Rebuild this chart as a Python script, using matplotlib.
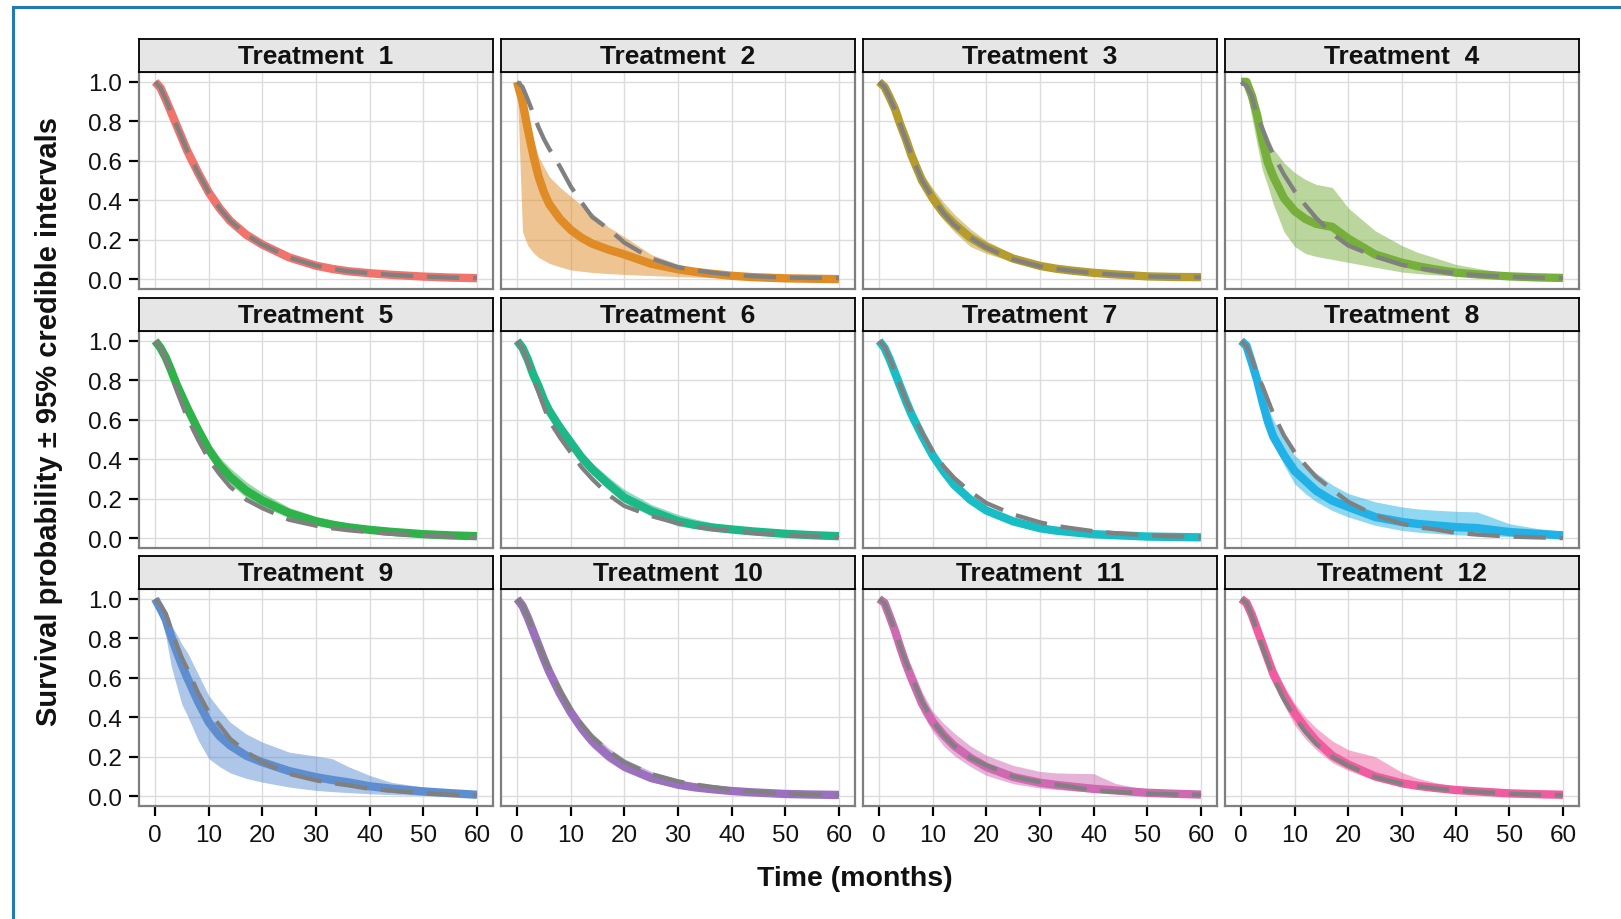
import matplotlib
matplotlib.use("Agg")
import matplotlib.pyplot as plt
from matplotlib.lines import Line2D

plt.rcParams['font.family'] = ['Liberation Sans', 'DejaVu Sans']

# time grid (months) shared by all curves
months = [0, 1, 2, 3, 4, 5, 6, 8, 10, 12, 14, 17, 20, 25, 30, 33, 36, 40, 44, 50, 55, 60]

treatments = ["Treatment  %d" % i for i in range(1, 13)]

colors = ['#F0736C', '#DF8B26', '#B59C2D', '#76AF3C', '#2DB34A', '#1DB888',
          '#19BDC6', '#22B1E6', '#5E8ED0', '#9B70BE', '#CF69B2', '#F05C9F']

# posterior median survival
median = [
    [1.0, 0.97, 0.91, 0.845, 0.78, 0.715, 0.65, 0.54, 0.44, 0.36, 0.295, 0.225, 0.175, 0.11, 0.068, 0.052, 0.04, 0.03, 0.022, 0.013, 0.008, 0.005],
    [1.0, 0.9, 0.76, 0.63, 0.52, 0.44, 0.38, 0.305, 0.25, 0.21, 0.18, 0.15, 0.125, 0.078, 0.05, 0.038, 0.028, 0.017, 0.01, 0.004, 0.002, 0.0],
    [1.0, 0.975, 0.92, 0.86, 0.78, 0.71, 0.63, 0.50, 0.41, 0.335, 0.28, 0.21, 0.163, 0.104, 0.067, 0.053, 0.043, 0.032, 0.024, 0.014, 0.011, 0.01],
    [1.0, 1.0, 0.93, 0.83, 0.70, 0.59, 0.52, 0.41, 0.345, 0.305, 0.28, 0.265, 0.205, 0.125, 0.083, 0.065, 0.05, 0.033, 0.024, 0.014, 0.009, 0.006],
    [1.0, 0.965, 0.915, 0.85, 0.78, 0.72, 0.66, 0.55, 0.45, 0.37, 0.31, 0.24, 0.19, 0.127, 0.085, 0.068, 0.055, 0.042, 0.032, 0.02, 0.014, 0.01],
    [1.0, 0.965, 0.905, 0.83, 0.77, 0.70, 0.645, 0.56, 0.485, 0.41, 0.35, 0.275, 0.205, 0.137, 0.086, 0.068, 0.055, 0.044, 0.034, 0.022, 0.015, 0.01],
    [1.0, 0.965, 0.905, 0.835, 0.765, 0.695, 0.63, 0.52, 0.42, 0.34, 0.27, 0.195, 0.14, 0.085, 0.05, 0.038, 0.03, 0.02, 0.015, 0.008, 0.006, 0.004],
    [1.0, 0.975, 0.89, 0.80, 0.69, 0.59, 0.515, 0.42, 0.34, 0.29, 0.24, 0.19, 0.158, 0.107, 0.082, 0.072, 0.065, 0.056, 0.051, 0.031, 0.022, 0.014],
    [1.0, 0.95, 0.895, 0.81, 0.735, 0.665, 0.60, 0.48, 0.375, 0.305, 0.257, 0.205, 0.172, 0.127, 0.096, 0.082, 0.07, 0.05, 0.038, 0.024, 0.015, 0.007],
    [1.0, 0.965, 0.905, 0.835, 0.765, 0.695, 0.63, 0.52, 0.425, 0.345, 0.28, 0.205, 0.15, 0.092, 0.058, 0.045, 0.036, 0.026, 0.019, 0.011, 0.008, 0.006],
    [1.0, 0.98, 0.91, 0.835, 0.75, 0.67, 0.60, 0.47, 0.377, 0.31, 0.255, 0.195, 0.148, 0.097, 0.068, 0.057, 0.048, 0.037, 0.029, 0.017, 0.012, 0.008],
    [1.0, 0.98, 0.92, 0.845, 0.77, 0.695, 0.62, 0.51, 0.42, 0.345, 0.28, 0.205, 0.16, 0.10, 0.065, 0.052, 0.042, 0.031, 0.024, 0.014, 0.01, 0.007],
]

# lower 95% credible bound
lower = [
    [1.0, 0.96, 0.90, 0.835, 0.77, 0.705, 0.64, 0.53, 0.43, 0.35, 0.287, 0.218, 0.168, 0.105, 0.064, 0.049, 0.037, 0.027, 0.019, 0.011, 0.006, 0.003],
    [1.0, 0.24, 0.17, 0.135, 0.11, 0.095, 0.08, 0.062, 0.047, 0.04, 0.034, 0.028, 0.024, 0.018, 0.013, 0.01, 0.008, 0.005, 0.002, -0.002, -0.005, -0.01],
    [1.0, 0.97, 0.91, 0.845, 0.76, 0.685, 0.60, 0.47, 0.37, 0.30, 0.24, 0.165, 0.13, 0.088, 0.057, 0.045, 0.036, 0.027, 0.02, 0.011, 0.008, 0.007],
    [1.0, 0.97, 0.82, 0.68, 0.55, 0.47, 0.38, 0.24, 0.165, 0.13, 0.115, 0.10, 0.085, 0.06, 0.036, 0.028, 0.022, 0.016, 0.011, 0.006, 0.004, 0.003],
    [1.0, 0.96, 0.905, 0.835, 0.76, 0.695, 0.63, 0.515, 0.415, 0.335, 0.275, 0.205, 0.16, 0.103, 0.068, 0.054, 0.043, 0.032, 0.024, 0.015, 0.01, 0.007],
    [1.0, 0.96, 0.895, 0.82, 0.755, 0.685, 0.625, 0.535, 0.46, 0.385, 0.32, 0.245, 0.18, 0.112, 0.061, 0.05, 0.042, 0.034, 0.026, 0.016, 0.01, 0.007],
    [1.0, 0.96, 0.895, 0.82, 0.75, 0.675, 0.61, 0.50, 0.40, 0.32, 0.25, 0.178, 0.125, 0.073, 0.042, 0.031, 0.024, 0.016, 0.011, 0.006, 0.004, 0.002],
    [1.0, 0.965, 0.86, 0.76, 0.65, 0.56, 0.49, 0.37, 0.275, 0.225, 0.185, 0.14, 0.107, 0.065, 0.039, 0.03, 0.024, 0.017, 0.013, 0.008, 0.005, 0.002],
    [1.0, 0.91, 0.81, 0.66, 0.56, 0.465, 0.41, 0.285, 0.19, 0.15, 0.118, 0.09, 0.071, 0.046, 0.029, 0.023, 0.018, 0.012, 0.008, 0.003, 0.0, -0.005],
    [1.0, 0.96, 0.895, 0.82, 0.745, 0.67, 0.60, 0.49, 0.39, 0.31, 0.245, 0.175, 0.125, 0.072, 0.043, 0.033, 0.026, 0.018, 0.013, 0.007, 0.004, 0.002],
    [1.0, 0.975, 0.89, 0.80, 0.72, 0.62, 0.555, 0.42, 0.326, 0.255, 0.205, 0.15, 0.105, 0.063, 0.041, 0.034, 0.028, 0.02, 0.015, 0.008, 0.004, 0.0],
    [1.0, 0.97, 0.90, 0.815, 0.73, 0.65, 0.575, 0.46, 0.36, 0.29, 0.235, 0.17, 0.13, 0.08, 0.05, 0.04, 0.032, 0.023, 0.017, 0.01, 0.006, 0.004],
]

# upper 95% credible bound
upper = [
    [1.0, 0.98, 0.92, 0.855, 0.79, 0.725, 0.66, 0.55, 0.45, 0.37, 0.303, 0.232, 0.182, 0.115, 0.072, 0.055, 0.043, 0.033, 0.025, 0.015, 0.01, 0.007],
    [1.0, 0.97, 0.82, 0.71, 0.62, 0.57, 0.52, 0.465, 0.42, 0.375, 0.335, 0.265, 0.215, 0.125, 0.076, 0.058, 0.044, 0.027, 0.018, 0.01, 0.007, 0.005],
    [1.0, 0.98, 0.93, 0.87, 0.80, 0.73, 0.66, 0.54, 0.46, 0.39, 0.33, 0.255, 0.195, 0.125, 0.08, 0.064, 0.052, 0.038, 0.028, 0.017, 0.013, 0.011],
    [1.0, 1.0, 0.96, 0.87, 0.79, 0.72, 0.66, 0.59, 0.54, 0.505, 0.48, 0.465, 0.36, 0.245, 0.17, 0.135, 0.11, 0.075, 0.055, 0.03, 0.018, 0.01],
    [1.0, 0.97, 0.925, 0.865, 0.80, 0.745, 0.69, 0.585, 0.485, 0.41, 0.355, 0.285, 0.23, 0.155, 0.11, 0.092, 0.075, 0.054, 0.04, 0.024, 0.017, 0.013],
    [1.0, 0.97, 0.915, 0.85, 0.79, 0.725, 0.67, 0.59, 0.51, 0.44, 0.38, 0.31, 0.247, 0.171, 0.12, 0.098, 0.08, 0.053, 0.04, 0.027, 0.019, 0.013],
    [1.0, 0.97, 0.915, 0.85, 0.78, 0.715, 0.65, 0.54, 0.44, 0.36, 0.29, 0.215, 0.158, 0.098, 0.06, 0.046, 0.036, 0.026, 0.019, 0.011, 0.008, 0.006],
    [1.0, 0.98, 0.90, 0.82, 0.73, 0.66, 0.60, 0.50, 0.42, 0.37, 0.33, 0.27, 0.226, 0.184, 0.158, 0.148, 0.142, 0.136, 0.133, 0.073, 0.05, 0.034],
    [1.0, 0.97, 0.93, 0.87, 0.82, 0.77, 0.73, 0.62, 0.51, 0.44, 0.375, 0.315, 0.274, 0.223, 0.203, 0.19, 0.15, 0.105, 0.07, 0.046, 0.03, 0.02],
    [1.0, 0.97, 0.915, 0.85, 0.785, 0.72, 0.66, 0.55, 0.46, 0.385, 0.32, 0.245, 0.19, 0.125, 0.085, 0.068, 0.055, 0.038, 0.028, 0.017, 0.012, 0.009],
    [1.0, 0.985, 0.93, 0.86, 0.79, 0.72, 0.66, 0.53, 0.43, 0.37, 0.32, 0.255, 0.207, 0.156, 0.125, 0.118, 0.116, 0.114, 0.065, 0.032, 0.022, 0.017],
    [1.0, 0.985, 0.935, 0.87, 0.80, 0.735, 0.67, 0.56, 0.47, 0.40, 0.345, 0.28, 0.235, 0.20, 0.12, 0.09, 0.07, 0.048, 0.035, 0.02, 0.014, 0.01],
]

# observed curve, drawn dashed
observed = [
    [1.0, 0.97, 0.91, 0.845, 0.78, 0.715, 0.65, 0.54, 0.44, 0.36, 0.295, 0.225, 0.175, 0.11, 0.068, 0.052, 0.04, 0.03, 0.022, 0.013, 0.008, 0.005],
    [1.0, 0.975, 0.91, 0.84, 0.77, 0.71, 0.66, 0.57, 0.47, 0.39, 0.315, 0.255, 0.185, 0.105, 0.06, 0.045, 0.034, 0.022, 0.015, 0.008, 0.006, 0.005],
    [1.0, 0.975, 0.92, 0.855, 0.78, 0.705, 0.63, 0.50, 0.41, 0.335, 0.275, 0.21, 0.16, 0.10, 0.065, 0.052, 0.042, 0.031, 0.023, 0.014, 0.011, 0.009],
    [1.0, 0.98, 0.93, 0.82, 0.76, 0.69, 0.63, 0.53, 0.445, 0.375, 0.31, 0.23, 0.17, 0.115, 0.073, 0.056, 0.044, 0.03, 0.02, 0.012, 0.008, 0.005],
    [1.0, 0.965, 0.905, 0.83, 0.75, 0.68, 0.61, 0.50, 0.40, 0.325, 0.26, 0.195, 0.152, 0.093, 0.063, 0.05, 0.04, 0.03, 0.022, 0.012, 0.008, 0.005],
    [1.0, 0.96, 0.89, 0.81, 0.74, 0.665, 0.595, 0.51, 0.434, 0.36, 0.30, 0.22, 0.163, 0.112, 0.075, 0.06, 0.048, 0.036, 0.027, 0.014, 0.009, 0.005],
    [1.0, 0.97, 0.91, 0.84, 0.77, 0.70, 0.64, 0.535, 0.44, 0.365, 0.305, 0.235, 0.178, 0.12, 0.08, 0.062, 0.05, 0.035, 0.025, 0.014, 0.009, 0.005],
    [1.0, 0.975, 0.91, 0.83, 0.77, 0.70, 0.63, 0.52, 0.435, 0.37, 0.31, 0.245, 0.184, 0.116, 0.073, 0.055, 0.045, 0.027, 0.018, 0.008, 0.004, 0.0],
    [1.0, 0.97, 0.925, 0.84, 0.77, 0.70, 0.645, 0.525, 0.425, 0.36, 0.29, 0.225, 0.172, 0.113, 0.08, 0.066, 0.055, 0.037, 0.028, 0.015, 0.008, 0.003],
    [1.0, 0.97, 0.91, 0.84, 0.77, 0.705, 0.64, 0.535, 0.44, 0.365, 0.30, 0.23, 0.172, 0.112, 0.075, 0.06, 0.048, 0.033, 0.024, 0.013, 0.008, 0.005],
    [1.0, 0.98, 0.91, 0.835, 0.755, 0.68, 0.61, 0.48, 0.38, 0.31, 0.255, 0.195, 0.156, 0.10, 0.071, 0.058, 0.047, 0.029, 0.022, 0.013, 0.009, 0.007],
    [1.0, 0.98, 0.915, 0.835, 0.755, 0.68, 0.605, 0.49, 0.40, 0.325, 0.265, 0.20, 0.155, 0.097, 0.063, 0.05, 0.04, 0.03, 0.022, 0.012, 0.008, 0.005],
]

W, H = 1621, 920
fig = plt.figure(figsize=(W / 100, H / 100), dpi=100)


def box(x0, y0, w, h):
    # pixel box (top-left origin) -> figure fraction
    return [x0 / W, 1 - (y0 + h) / H, w / W, h / H]


col_left = [139, 501, 863, 1225]
strip_top = [40, 299, 557]
panel_w, strip_h, panel_h = 354, 33, 217

for k in range(12):
    r, c = divmod(k, 4)
    x0 = col_left[c]
    y0 = strip_top[r] + strip_h
    ax = fig.add_axes(box(x0, y0, panel_w, panel_h))
    ax.set_xlim(-3, 63)
    ax.set_ylim(-0.05, 1.05)
    ax.set_xticks(range(0, 61, 10))
    ax.set_yticks([0, 0.2, 0.4, 0.6, 0.8, 1.0])
    ax.set_yticklabels(['0.0', '0.2', '0.4', '0.6', '0.8', '1.0'])
    ax.grid(True, color='#DCDCDC', lw=1.0)
    ax.set_axisbelow(True)
    for s in ax.spines.values():
        s.set_color('#7F7F7F')
        s.set_linewidth(1.6)
    ax.tick_params(length=7.2, width=1.6, color='black', labelsize=17.5,
                   labelcolor='#111111')
    ax.tick_params(axis='y', pad=5)
    ax.tick_params(axis='x', pad=6)
    if c != 0:
        ax.tick_params(axis='y', left=False, labelleft=False)
    if r != 2:
        ax.tick_params(axis='x', bottom=False, labelbottom=False)

    ax.fill_between(months, lower[k], upper[k], color=colors[k], alpha=0.5, lw=0)
    ax.plot(months, median[k], color=colors[k], lw=6, solid_capstyle='butt',
            solid_joinstyle='round')
    ax.plot(months, observed[k], color='#808080', lw=3.1, dashes=(7.5, 3.2),
            dash_capstyle='butt')

    st = fig.add_axes(box(x0, strip_top[r], panel_w, strip_h))
    st.set_facecolor('#E5E6E5')
    st.set_xticks([])
    st.set_yticks([])
    for s in st.spines.values():
        s.set_color('black')
        s.set_linewidth(1.3)
    st.text(0.5, 0.47, treatments[k], ha='center', va='center',
            fontsize=19, fontweight='bold', color='#111111',
            transform=st.transAxes)

fig.text(855 / W, 1 - 879 / H, 'Time (months)', ha='center', va='center',
         fontsize=20.5, fontweight='bold', color='#111111')
fig.text(49 / W, 1 - 421 / H, 'Survival probability ± 95% credible intervals',
         ha='center', va='center', rotation=90, fontsize=21,
         fontweight='bold', color='#111111')

# blue frame on top and left edges
fig.add_artist(Line2D([12.5 / W, 12.5 / W], [0, 1 - 8 / H], transform=fig.transFigure,
                      color='#2379B4', lw=2.2))
fig.add_artist(Line2D([12.5 / W, 1], [1 - 8 / H, 1 - 8 / H], transform=fig.transFigure,
                      color='#2379B4', lw=2.2))

fig.savefig('out.png', dpi=100)
